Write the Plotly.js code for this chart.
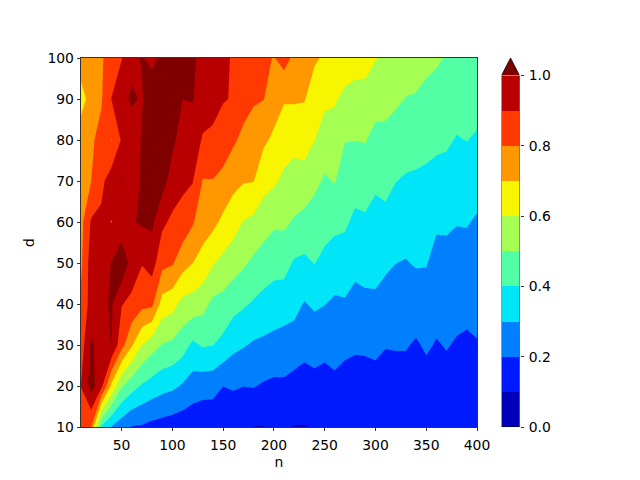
<!DOCTYPE html>
<html>
<head>
<meta charset="utf-8">
<script src="https://cdn.plot.ly/plotly-3.0.1.min.js"></script>
<style>
  html, body { margin: 0; padding: 0; background: #fff; }
  #graph { width: 640px; height: 480px; }
</style>
</head>
<body>
<div id="graph"></div>
<script>
const nValues = [10, 20, 30, 40, 50, 60, 70, 80, 90, 100, 110, 120, 130, 140, 150, 160, 170, 180, 190, 200,
  210, 220, 230, 240, 250, 260, 270, 280, 290, 300, 310, 320, 330, 340, 350, 360, 370, 380, 390, 400];
const dValues = [10, 20, 30, 40, 50, 60, 70, 80, 90, 100];

// one row per d
const d10 = [.83, .80, .39, .295, .24, .195, .19, .17, .16, .15, .14, .13, .12, .12, .12, .12, .115, .098, .098, .105,
  .105, .098, .097, .105, .105, .11, .11, .11, .11, .115, .115, .115, .115, .115, .12, .12, .125, .12, .12, .11];
const d20 = [.902, 1.04, .93, .68, .51, .44, .39, .36, .335, .32, .29, .255, .242, .238, .201, .211, .201, .205, .19, .18,
  .184, .165, .16, .17, .16, .18, .16, .16, .16, .165, .155, .16, .16, .155, .165, .16, .17, .16, .155, .152];
const d30 = [.85, 1.015, .96, 1.002, .835, .71, .6, .54, .495, .48, .445, .38, .41, .402, .374, .325, .308, .288, .28, .27,
  .26, .255, .23, .24, .23, .233, .224, .213, .215, .221, .205, .207, .207, .19, .212, .194, .205, .192, .185, .195];
const d40 = [.82, .94, .975, 1.012, .905, .875, .83, .82, .66, .635, .57, .56, .533, .477, .467, .435, .412, .39, .37, .355,
  .345, .33, .294, .314, .302, .285, .29, .27, .274, .283, .26, .254, .25, .248, .259, .232, .24, .229, .225, .227];
const d50 = [.78, .95, .96, 1.003, 1.08, .96, .905, .94, .83, .81, .74, .701, .668, .607, .572, .543, .514, .48, .454, .434,
  .436, .389, .38, .403, .37, .355, .353, .325, .341, .33, .317, .301, .295, .308, .305, .271, .274, .266, .265, .259];
const d60 = [.77, .91, .92, .897, .93, .992, 1.012, 1.02, .92, .88, .865, .81, .741, .725, .679, .641, .596, .576, .545, .516,
  .517, .49, .47, .46, .444, .423, .415, .379, .386, .37, .375, .351, .34, .347, .343, .313, .313, .304, .306, .29];
const d70 = [.75, .799, .875, .95, 1.005, .97, 1.006, 1.05, 1.04, .96, .92, .905, .795, .796, .769, .728, .707, .703, .635, .615,
  .58, .562, .56, .52, .49, .505, .455, .44, .445, .415, .426, .402, .39, .386, .382, .367, .364, .36, .355, .337];
const d80 = [.745, .785, .83, .797, .91, .96, 1.006, 1.05, 1.06, 1.02, .96, .95, .89, .882, .86, .815, .775, .756, .715, .684,
  .644, .63, .64, .601, .545, .555, .503, .501, .505, .473, .474, .457, .443, .436, .425, .42, .414, .394, .402, .39];
const d90 = [.67, .73, .79, .902, .98, 1.01, .993, 1.05, 1.06, 1.04, 1.0005, 1.005, .95, .93, .905, .895, .84, .81, .802, .74,
  .708, .71, .705, .66, .625, .61, .575, .565, .575, .535, .53, .515, .497, .492, .47, .47, .46, .44, .44, .43];
const d100 = [.74, .76, .79, .84, .895, .98, 1.005, .98, 1.02, 1.03, 1.03, 1.01, .98, .95, .92, .89, .87, .85, .82, .795,
  .84, .775, .75, .71, .69, .675, .66, .64, .625, .605, .59, .57, .55, .54, .53, .51, .495, .47, .46, .45];

const barLevels = [0, 0.1, 0.2, 0.3, 0.4, 0.5, 0.6, 0.7, 0.8, 0.9];
const barTicks = [0, 0.2, 0.4, 0.6, 0.8, 1.0];
const barLabels = ['0.0', '0.2', '0.4', '0.6', '0.8', '1.0'];

// jet, one colour per band
const bandColors = ['#0000b9', '#001aff', '#0080ff', 'rgb(0,229,247)', 'rgb(82,255,165)',
  'rgb(165,255,82)', 'rgb(247,245,0)', 'rgb(255,151,0)', 'rgb(255,57,0)', 'rgb(185,0,0)'];
const overColor = 'rgb(128,0,0)';

// plotly also wants a colour for the region under 0 and the one over 1
const allColors = [bandColors[0]].concat(bandColors, [overColor]);
const colorscale = allColors.map((c, i) => [i / (allColors.length - 1), c]);

const font = {family: 'DejaVu Sans', size: 13.9, color: '#000'};

const contourTrace = {
  type: 'contour',
  x: nValues,
  y: dValues,
  z: [d10, d20, d30, d40, d50, d60, d70, d80, d90, d100],
  colorscale: colorscale,
  showscale: false,
  contours: {coloring: 'fill', start: 0, end: 1, size: 0.1},
  line: {width: 0, smoothing: 0},
  hoverinfo: 'skip'
};

// colorbar drawn as its own small subplot so the arrow can sit on top of it
const barTrace = {
  type: 'bar',
  x: barLevels.map(() => 0.5),
  y: barLevels.map(() => 0.1),
  base: barLevels,
  width: 1,
  marker: {color: bandColors, line: {width: 0}},
  xaxis: 'x2',
  yaxis: 'y2',
  hoverinfo: 'skip'
};

const arrowTrace = {
  type: 'scatter',
  mode: 'lines',
  x: [0, 0.5, 1, 0],
  y: [1, 1.05, 1, 1],
  fill: 'toself',
  fillcolor: overColor,
  line: {width: 0},
  xaxis: 'x2',
  yaxis: 'y2',
  hoverinfo: 'skip'
};

const outlineTrace = {
  type: 'scatter',
  mode: 'lines',
  x: [0, 0, 0.5, 1, 1, 0],
  y: [0, 1, 1.05, 1, 0, 0],
  line: {color: '#000', width: 0.8},
  cliponaxis: false,
  xaxis: 'x2',
  yaxis: 'y2',
  hoverinfo: 'skip'
};

const axisStyle = {
  showgrid: false,
  zeroline: false,
  showline: true,
  mirror: true,
  linecolor: '#000',
  linewidth: 0.8,
  ticks: 'outside',
  ticklen: 3.5,
  tickwidth: 0.8,
  tickcolor: '#000',
  tickfont: font
};

const plotWidth = 640 - 81 - 100;

const layout = {
  width: 640,
  height: 480,
  margin: {l: 81, r: 100, t: 58, b: 53, pad: 0},
  paper_bgcolor: '#fff',
  plot_bgcolor: '#fff',
  showlegend: false,
  xaxis: Object.assign({}, axisStyle, {
    domain: [0, 396 / plotWidth],
    range: [10, 400],
    tickvals: [50, 100, 150, 200, 250, 300, 350, 400],
    ticklabelstandoff: 2,
    title: {text: 'n', font: font, standoff: 5}
  }),
  yaxis: Object.assign({}, axisStyle, {
    range: [10, 100],
    tickvals: dValues,
    title: {text: 'd', font: font, standoff: 9}
  }),
  xaxis2: {
    domain: [420.5 / plotWidth, 438.5 / plotWidth],
    range: [0, 1],
    anchor: 'y2',
    visible: false,
    fixedrange: true
  },
  yaxis2: {
    domain: [0, 1],
    range: [0, 1.05],
    anchor: 'x2',
    side: 'right',
    showgrid: false,
    zeroline: false,
    showline: false,
    tickmode: 'array',
    tickvals: barTicks,
    ticktext: barLabels,
    ticks: 'outside',
    ticklen: 3.5,
    tickwidth: 0.8,
    tickcolor: '#000',
    tickfont: font,
    ticklabelstandoff: 2
  },
  bargap: 0
};

Plotly.newPlot('graph', [contourTrace, barTrace, arrowTrace, outlineTrace], layout, {displayModeBar: false, staticPlot: true});
</script>
</body>
</html>
